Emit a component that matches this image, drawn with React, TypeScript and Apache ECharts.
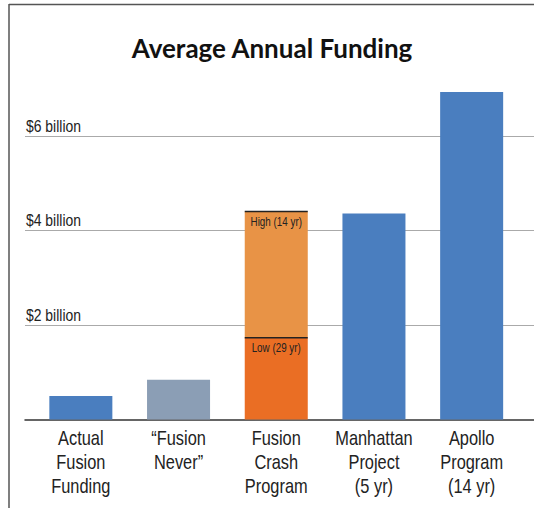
import React, { useEffect, useRef } from "react";
import * as echarts from "echarts";

const categories = [
  "Actual\nFusion\nFunding",
  "\u201cFusion\nNever\u201d",
  "Fusion\nCrash\nProgram",
  "Manhattan\nProject\n(5 yr)",
  "Apollo\nProgram\n(14 yr)",
];
// billions of dollars per year
const baseValues = [0.5, 0.84, 1.73, 4.36, 6.93];
const crashHighExtra: (number | string)[] = ["-", "-", 2.67, "-", "-"];
const crashMarks = [
  { value: 1.73, label: "Low (29 yr)" },
  { value: 4.4, label: "High (14 yr)" },
];
const barColors = ["#4a7ebf", "#8b9eb5", "#ea6e24", "#4a7ebf", "#4a7ebf"];
const yTicks = [0, 2, 4, 6, 8];
const yTickLabels = ["", "$2 billion", "$4 billion", "$6 billion", ""];

const FONT = "'Liberation Sans', Arial, sans-serif";
const NARROW_SCALE = 0.82;

export default function App() {
  const ref = useRef<HTMLDivElement>(null);
  useEffect(() => {
    document.body.style.margin = "0";
    const chart = echarts.init(ref.current!, null, { renderer: "svg" });
    const yMin = yTicks[0];
    const yMax = yTicks[yTicks.length - 1];
    chart.setOption({
      animation: false,
      backgroundColor: "#ffffff",
      graphic: [
        {
          type: "line",
          shape: { x1: 9, y1: 4.5, x2: 534, y2: 4.5 },
          style: { stroke: "#555", lineWidth: 1.5 },
          z: 10,
        },
        {
          type: "line",
          shape: { x1: 9, y1: 4, x2: 9, y2: 508 },
          style: { stroke: "#555", lineWidth: 1.5 },
          z: 10,
        },
        {
          type: "text",
          x: 272,
          y: 48,
          style: {
            text: "Average Annual Funding",
            fontFamily: "Lato, 'Open Sans', sans-serif",
            fontWeight: "bold",
            fontSize: 26,
            fill: "#111",
            textAlign: "center",
            textVerticalAlign: "middle",
          },
        },
      ],
      grid: [
        { left: 32, right: 13.5, top: 41.5, bottom: 88.5 },
        { left: 25, right: 0, top: 41.5, bottom: 88.5 },
      ],
      xAxis: [
        {
          type: "category",
          gridIndex: 0,
          data: categories,
          axisLine: { show: false },
          axisTick: { show: false },
          axisLabel: { show: false },
        },
        {
          type: "value",
          gridIndex: 1,
          min: 0,
          max: 1,
          axisLine: { show: true, lineStyle: { color: "#333", width: 1.5 } },
          axisTick: { show: false },
          axisLabel: { show: false },
          splitLine: { show: false },
        },
      ],
      yAxis: [
        {
          type: "value",
          gridIndex: 0,
          min: yMin,
          max: yMax,
          interval: 2,
          show: false,
          splitLine: { show: false },
        },
        {
          type: "value",
          gridIndex: 1,
          min: yMin,
          max: yMax,
          interval: 2,
          axisLine: { show: false },
          axisTick: { show: false },
          axisLabel: { show: false },
          splitLine: {
            show: true,
            showMinLine: false,
            showMaxLine: false,
            lineStyle: { color: "#aaaaaa", width: 1 },
          },
        },
      ],
      series: [
        {
          type: "bar",
          name: "Funding",
          xAxisIndex: 0,
          yAxisIndex: 0,
          stack: "total",
          barWidth: "64.5%",
          data: baseValues.map((v, i) => ({ value: v, itemStyle: { color: barColors[i] } })),
          z: 3,
        },
        {
          type: "bar",
          name: "Crash high",
          xAxisIndex: 0,
          yAxisIndex: 0,
          stack: "total",
          barWidth: "64.5%",
          itemStyle: { color: "#e89346" },
          data: crashHighExtra,
          z: 3,
        },
        {
          type: "custom",
          name: "Crash marks",
          xAxisIndex: 0,
          yAxisIndex: 0,
          data: crashMarks.map((m) => [2, m.value]),
          z: 5,
          renderItem: (params: any, api: any) => {
            const pt = api.coord([api.value(0), api.value(1)]);
            const w = api.size([1, 0])[0] * 0.645;
            return {
              type: "group",
              children: [
                {
                  type: "line",
                  shape: { x1: pt[0] - w / 2, y1: pt[1], x2: pt[0] + w / 2, y2: pt[1] },
                  style: { stroke: "#222", lineWidth: 1.5 },
                },
                {
                  type: "text",
                  x: pt[0],
                  y: pt[1] + 10,
                  scaleX: NARROW_SCALE,
                  style: {
                    text: crashMarks[params.dataIndex].label,
                    fontFamily: FONT,
                    fontSize: 12,
                    fill: "#222",
                    textAlign: "center",
                    textVerticalAlign: "middle",
                  },
                },
              ],
            };
          },
        },
        {
          type: "custom",
          name: "Category labels",
          xAxisIndex: 0,
          yAxisIndex: 0,
          data: categories.map((_, i) => [i, 0]),
          z: 5,
          renderItem: (params: any, api: any) => {
            const pt = api.coord([api.value(0), api.value(1)]);
            return {
              type: "text",
              x: pt[0],
              y: pt[1] + 6,
              scaleX: NARROW_SCALE,
              style: {
                text: categories[params.dataIndex],
                fontFamily: FONT,
                fontSize: 20,
                lineHeight: 24,
                fill: "#222",
                textAlign: "center",
                textVerticalAlign: "top",
              },
            };
          },
        },
        {
          type: "custom",
          name: "Y labels",
          xAxisIndex: 1,
          yAxisIndex: 1,
          data: yTicks.map((v) => [0, v]),
          z: 5,
          renderItem: (params: any, api: any) => {
            const pt = api.coord([api.value(0), api.value(1)]);
            return {
              type: "text",
              x: pt[0] + 1,
              y: pt[1] - 2,
              scaleX: NARROW_SCALE,
              style: {
                text: yTickLabels[params.dataIndex],
                fontFamily: FONT,
                fontSize: 17,
                fill: "#222",
                textAlign: "left",
                textVerticalAlign: "bottom",
              },
            };
          },
        },
      ],
    });
    return () => chart.dispose();
  }, []);
  return (
    <div
      ref={ref}
      style={{ position: "absolute", left: 0, top: 0, width: 534, height: 508 }}
    />
  );
}
